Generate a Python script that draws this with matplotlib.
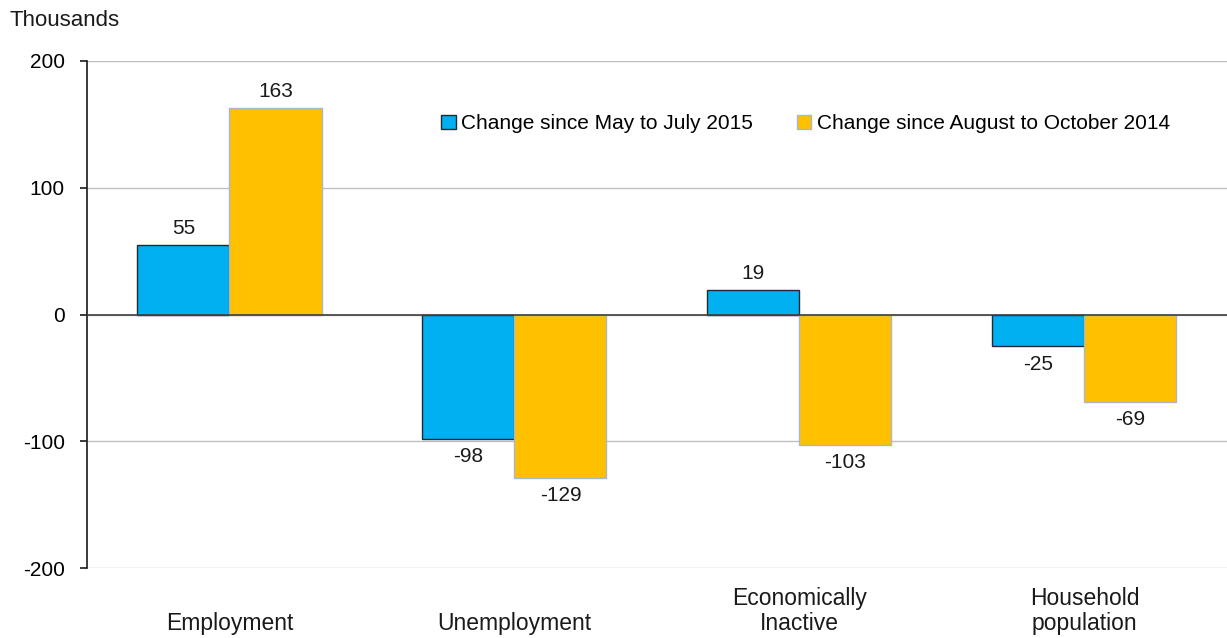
import matplotlib.pyplot as plt
import numpy as np

plt.rcParams['font.family'] = ['Liberation Sans', 'DejaVu Sans']
plt.rcParams['axes.unicode_minus'] = False

categories = ['Employment', 'Unemployment', 'Economically\nInactive', 'Household\npopulation']
since_may_jul_2015 = [55, -98, 19, -25]
since_aug_oct_2014 = [163, -129, -103, -69]
series_names = ['Change since May to July 2015', 'Change since August to October 2014']

fig = plt.figure(figsize=(12.27, 6.38), dpi=100)
ax = fig.add_axes([0.0709, 0.1097, 0.929, 0.7947])

x = np.arange(len(categories))
w = 0.323
bars1 = ax.bar(x - w / 2, since_may_jul_2015, w, color='#00b0f0', edgecolor='#1f2a33',
               linewidth=1.0, label=series_names[0], zorder=3)
bars2 = ax.bar(x + w / 2, since_aug_oct_2014, w, color='#ffc000', edgecolor='#a9b8c9',
               linewidth=1.0, label=series_names[1], zorder=3)

for bars in (bars1, bars2):
    for bar in bars:
        v = bar.get_height()
        xc = bar.get_x() + bar.get_width() / 2
        if v >= 0:
            ax.annotate(str(int(v)), (xc, v), xytext=(0, 5), textcoords='offset points',
                        ha='center', va='bottom', fontsize=15, color='#1a1a1a')
        else:
            ax.annotate(str(int(v)), (xc, v), xytext=(0, -6), textcoords='offset points',
                        ha='center', va='top', fontsize=15, color='#1a1a1a')

ax.set_xlim(-0.5, 3.5)
ax.set_ylim(-200, 200)
ax.set_yticks([-200, -100, 0, 100, 200])
ax.yaxis.grid(True, color='#bfbfbf', linewidth=1.0, zorder=0)
ax.axhline(0, color='#404040', linewidth=1.2, zorder=4)
ax.set_xticks([])
for s in ['top', 'right', 'bottom']:
    ax.spines[s].set_visible(False)
ax.spines['left'].set_color('#1a1a1a')
ax.spines['left'].set_linewidth(1.2)
ax.tick_params(axis='y', length=5, width=1.2, color='#1a1a1a', labelsize=15, pad=11)

for i, c in enumerate(categories):
    ax.text(x[i], -0.132, c, transform=ax.get_xaxis_transform(), ha='center', va='bottom',
            fontsize=16.5, color='#1a1a1a', linespacing=1.1)

fig.text(0.008, 0.968, 'Thousands', fontsize=16, color='#1a1a1a', va='center')

leg = ax.legend(loc='center left', bbox_to_anchor=(0.353, 0.806), bbox_transform=fig.transFigure,
                ncol=2, frameon=False, fontsize=15, handlelength=0.7, handleheight=0.7,
                handletextpad=0.25, columnspacing=2.1, borderaxespad=0)

fig.savefig('out.png', dpi=100)
